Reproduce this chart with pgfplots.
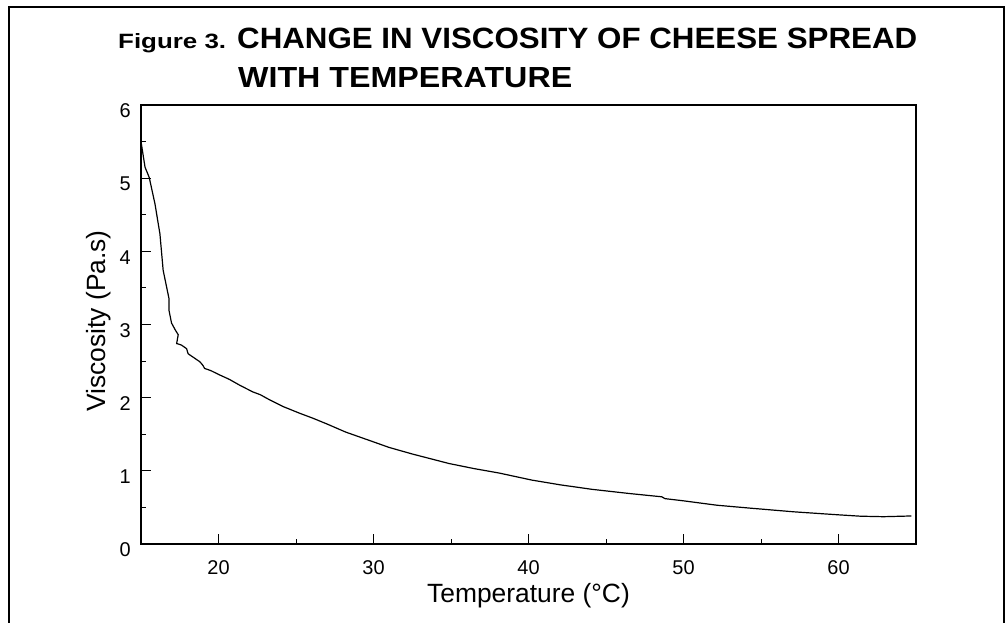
\documentclass[border=0pt]{standalone}
\usepackage{fontspec}
\setmainfont{Liberation Sans}
\usepackage{graphicx}
\usepackage{pgfplots}
\pgfplotsset{compat=1.18}
\begin{document}
\begin{tikzpicture}[x=1bp,y=1bp]
\useasboundingbox (0,0) rectangle (1008,623);
\draw[line width=2.5bp] (9,0) -- (9,616) -- (1004,616) -- (1004,0);
\node[anchor=base west, inner sep=0] at (118,574) {\resizebox{108bp}{15bp}{\bfseries Figure 3.}};
\node[anchor=base west, inner sep=0] at (237,574) {\resizebox{680bp}{20.5bp}{\bfseries CHANGE IN VISCOSITY OF CHEESE SPREAD}};
\node[anchor=base west, inner sep=0] at (238,535) {\resizebox{334bp}{20bp}{\bfseries WITH TEMPERATURE}};
\begin{axis}[at={(141bp,79bp)}, anchor=south west, scale only axis,
  width=775bp, height=439bp,
  xmin=15, xmax=65, ymin=0, ymax=6,
  xtick={20,30,...,60}, ytick={0,1,...,6},
  minor x tick num=1, minor y tick num=1,
  tick align=inside, xtick pos=bottom, ytick pos=left,
  major tick length=10bp, minor tick length=5bp,
  axis line style={line width=1.2bp},
  tick style={line width=1bp, black},
  tick label style={font=\fontsize{20}{24}\selectfont},
  /pgf/number format/assume math mode=true,
  xticklabel style={anchor=north, inner sep=0pt, yshift=-16bp, font=\fontsize{20}{24}\selectfont},
  yticklabel style={anchor=east, inner sep=0pt, xshift=-10bp, yshift=-6bp, font=\fontsize{20}{24}\selectfont},
  clip=false]
\addplot[black, line width=1.2bp] coordinates {
(15.0,5.50) (15.26,5.15) (15.53,5.01) (15.9,4.65) (16.22,4.24) (16.43,3.74)
(16.8,3.36) (16.8,3.20) (16.97,3.02) (17.2,2.93) (17.4,2.86) (17.3,2.74)
(17.6,2.72) (17.94,2.67) (18.04,2.60) (18.8,2.49) (19.0,2.44) (19.1,2.40)
(19.5,2.37) (20.08,2.31) (20.7,2.25) (21.37,2.17) (22.2,2.08) (22.7,2.04)
(23.3,1.97) (24.15,1.88) (25.2,1.79) (26.08,1.72) (27.0,1.64) (28.2,1.53)
(29.94,1.40) (31.0,1.32) (32.5,1.23) (34.87,1.10) (36.5,1.03) (38.1,0.97)
(40.2,0.874) (42.0,0.81) (44.1,0.747) (46.5,0.69) (48.6,0.645) (48.8,0.62)
(50.0,0.59) (52.15,0.53) (54.3,0.49) (57.1,0.44) (59.9,0.40) (61.4,0.38)
(62.9,0.373) (64.7,0.383)
};
\end{axis}
\node[rotate=90, anchor=base, inner sep=0, font=\fontsize{26.5}{30}\selectfont] at (105,302) {Viscosity (Pa.s)};
\node[anchor=base, inner sep=0, font=\fontsize{26.5}{30}\selectfont] at (528.5,20) {Temperature (°C)};
\end{tikzpicture}
\end{document}
